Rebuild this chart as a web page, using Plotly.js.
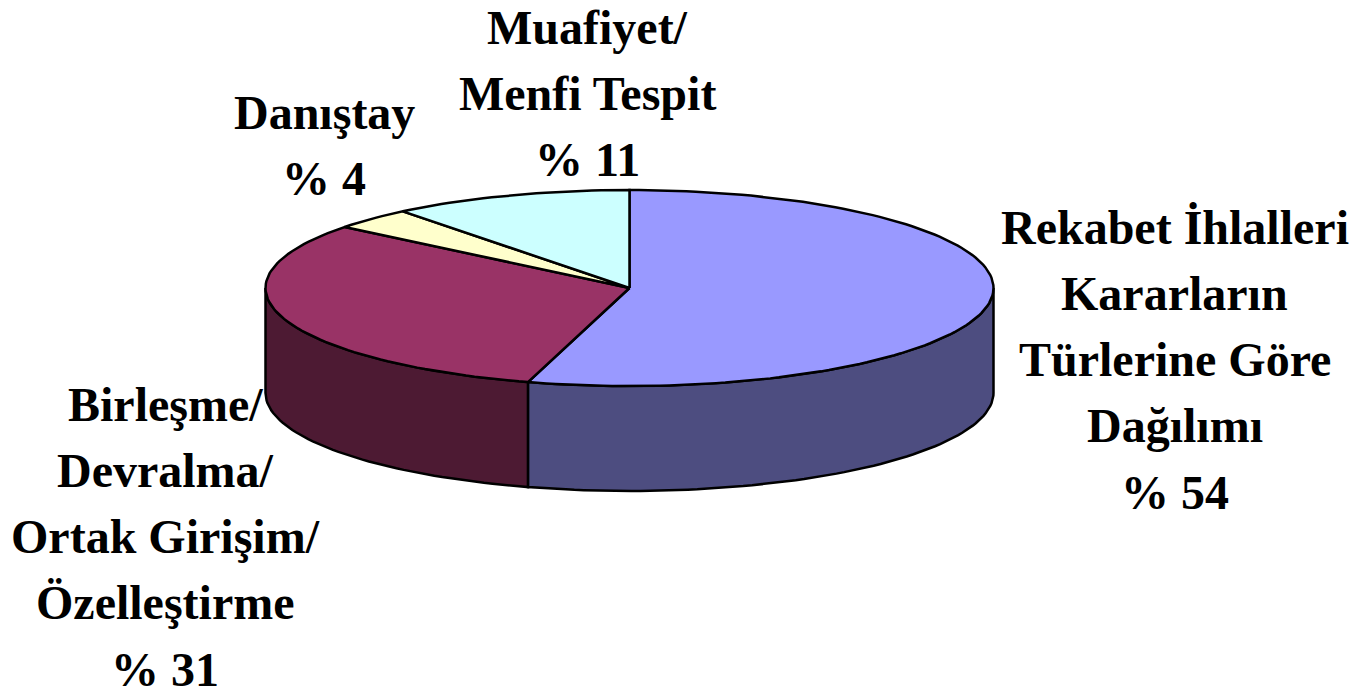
<!DOCTYPE html>
<html>
<head>
<meta charset="utf-8">
<script src="https://cdn.plot.ly/plotly-3.0.1.min.js"></script>
<style>html,body{margin:0;padding:0;background:#fff}#c{width:1355px;height:691px}</style>
</head>
<body>
<div id="c"></div>
<script>
// Data (clockwise from 12 o'clock)
const categories = [
  ["Rekabet İhlalleri", "Kararların", "Türlerine Göre", "Dağılımı", "% 54"],
  ["Birleşme/", "Devralma/", "Ortak Girişim/", "Özelleştirme", "% 31"],
  ["Danıştay", "% 4"],
  ["Muafiyet/", "Menfi Tespit", "% 11"]
];
const values = [54.5, 31.2, 3.6, 10.7];
const topColors = ["#9999FF", "#993366", "#FFFFCC", "#CCFFFF"];
const sideColors = ["#4D4D80", "#4D1A33", "#808066", "#668080"];
const labelX = [1174.5, 165, 324, 587];
const labelFirstY = [227, 404, 112, 27];
const lineStep = 66.3;

// Pie projection
const cx = 629.5, cy = 288, rx = 364, ry = 98, depth = 105;
const total = values.reduce((a, b) => a + b, 0);
const pt = (deg, dy = 0) => {
  const r = deg * Math.PI / 180;
  return [cx + rx * Math.sin(r), cy - ry * Math.cos(r) + dy];
};
const arc = (a0, a1, dy = 0) => {
  const n = Math.max(2, Math.ceil(Math.abs(a1 - a0) / 1.5));
  const out = [];
  for (let i = 0; i <= n; i++) out.push(pt(a0 + (a1 - a0) * i / n, dy));
  return out;
};
const poly = (pts, fill, width = 2.5) => ({
  type: "scatter", mode: "lines", x: pts.map(p => p[0]), y: pts.map(p => p[1]),
  fill: "toself", fillcolor: fill, line: {color: "#000", width, shape: "linear"},
  hoverinfo: "skip", showlegend: false
});

const traces = [];
const tops = [];
let acc = 0;
values.forEach((v, i) => {
  const a0 = acc / total * 360, a1 = (acc + v) / total * 360;
  acc += v;
  const s0 = Math.max(a0, 90), s1 = Math.min(a1, 270);
  if (s1 > s0) {
    const upper = arc(s0, s1), lower = arc(s1, s0, depth);
    traces.push(poly(upper.concat(lower, [upper[0]]), sideColors[i]));
  }
  tops.push(poly([[cx, cy]].concat(arc(a0, a1), [[cx, cy]]), topColors[i]));
});
traces.push(...tops);

const annotations = [];
categories.forEach((lines, i) => lines.forEach((t, k) => annotations.push({
  text: "<b>" + t + "</b>", x: labelX[i], y: labelFirstY[i] + k * lineStep, xref: "x", yref: "y",
  showarrow: false, align: "center", xanchor: "center", yanchor: "middle",
  font: {family: "Liberation Serif, Times New Roman, serif", size: 48, color: "#000"}
})));

const layout = {
  width: 1355, height: 691, margin: {l: 0, r: 0, t: 0, b: 0},
  paper_bgcolor: "#fff", plot_bgcolor: "#fff", showlegend: false,
  xaxis: {range: [0, 1355], visible: false, fixedrange: true},
  yaxis: {range: [691, 0], visible: false, fixedrange: true},
  annotations
};
Plotly.newPlot("c", traces, layout, {displayModeBar: false, staticPlot: true});
</script>
</body>
</html>
